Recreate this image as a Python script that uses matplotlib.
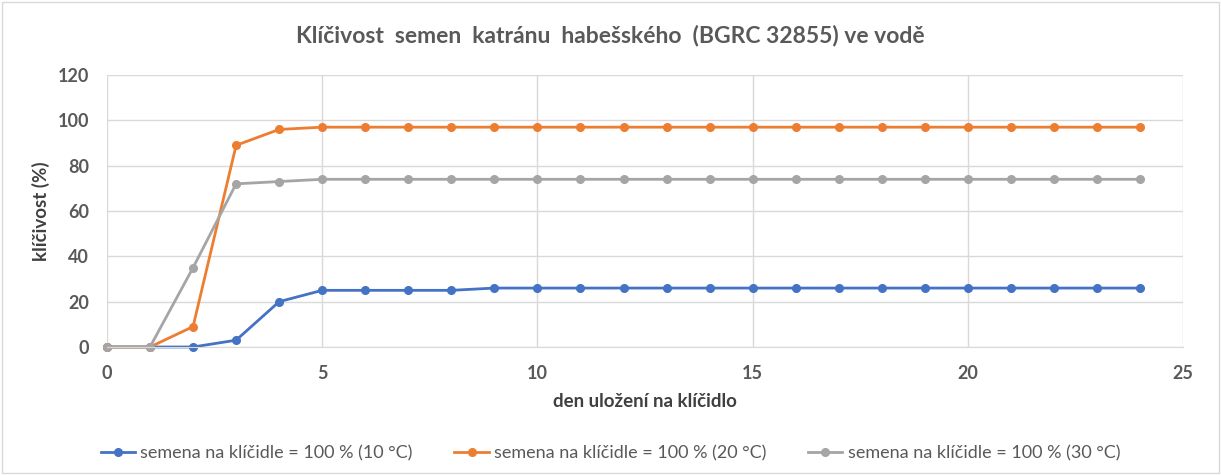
import matplotlib
matplotlib.use("Agg")
import matplotlib.pyplot as plt
from matplotlib.patches import Rectangle

plt.rcParams['font.family'] = ['Lato', 'DejaVu Sans']

days = list(range(0, 25))
s10 = [0, 0, 0, 3, 20, 25, 25, 25, 25] + [26] * 16
s20 = [0, 0, 9, 89, 96] + [97] * 20
s30 = [0, 0, 35, 72, 73] + [74] * 20

labels = ["semena na klíčidle = 100 % (10 °C)",
          "semena na klíčidle = 100 % (20 °C)",
          "semena na klíčidle = 100 % (30 °C)"]
colors = ["#4472C4", "#ED7D31", "#A5A5A5"]
title = "Klíčivost  semen  katránu  habešského  (BGRC 32855) ve vodě"
xlabel = "den uložení na klíčidlo"
ylabel = "klíčivost (%)"
xticks = [0, 5, 10, 15, 20, 25]
yticks = [0, 20, 40, 60, 80, 100, 120]

fig = plt.figure(figsize=(12.21, 4.75), dpi=100)
fig.patches.append(Rectangle((0.002, 0.004), 0.996, 0.992, transform=fig.transFigure,
                             fill=False, edgecolor="#d9d9d9", linewidth=1))
ax = fig.add_axes([0.0876, 0.2695, 0.8814, 0.5725])

for y, c, l in zip([s10, s20, s30], colors, labels):
    ax.plot(days, y, color=c, lw=2, marker="o", markersize=5.5, label=l, clip_on=False)

ax.set_xlim(0, 25)
ax.set_ylim(0, 120)
ax.set_xticks(xticks)
ax.set_yticks(yticks)
ax.grid(True, color="#d9d9d9", lw=1)
ax.set_axisbelow(True)
for s in ["top", "right", "left"]:
    ax.spines[s].set_visible(False)
ax.spines["bottom"].set_color("#d9d9d9")
ax.tick_params(length=0, labelsize=13, labelcolor="#595959")
ax.tick_params(axis="y", pad=13)
ax.tick_params(axis="x", pad=13)
for t in ax.get_xticklabels() + ax.get_yticklabels():
    t.set_fontweight("bold")
ax.set_xlabel(xlabel, fontsize=13.5, fontweight="bold", color="#404040", labelpad=8)
ax.set_ylabel(ylabel, fontsize=13.5, fontweight="bold", color="#404040", labelpad=5)
fig.text(0.5, 0.925, title, ha="center", va="center", fontsize=16.5, fontweight="bold", color="#595959")
fig.legend(loc="center", bbox_to_anchor=(0.5, 0.045), ncol=3, frameon=False,
           fontsize=13, labelcolor="#595959", handlelength=1.9, handletextpad=0.3,
           columnspacing=2.3)

fig.savefig("out.png", dpi=100)
